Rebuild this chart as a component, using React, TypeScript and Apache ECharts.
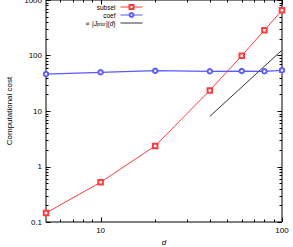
import React, { useEffect, useRef } from "react";
import * as echarts from "echarts";

// ---- data ----
const dValues = [5, 10, 20, 40, 60, 80, 100];
const subselCost = [0.145, 0.52, 2.35, 23.5, 99, 285, 655];
const coefCost = [46.3, 49.8, 53.2, 51.9, 52.5, 51.9, 54.1];
const jpriorD = [40, 100];
const jpriorCost = [8, 125];

const xMajorTicks = [10, 100];
const xMinorTicks = [6, 7, 8, 9, 20, 30, 40, 50, 60, 70, 80, 90];
const yMajorTicks = [0.1, 1, 10, 100, 1000];
const yMinorTicks = [
  0.2, 0.3, 0.4, 0.5, 0.6, 0.7, 0.8, 0.9,
  2, 3, 4, 5, 6, 7, 8, 9,
  20, 30, 40, 50, 60, 70, 80, 90,
  200, 300, 400, 500, 600, 700, 800, 900,
];
const xLabels = [10, 100];
const yLabels = [0.1, 1, 10, 100, 1000];

const SUBSEL = "subsel";
const COEF = "coef";
const JPRIOR = "∝ |Jprior|(d)";

const FONT = "Liberation Sans";
const MAJOR_LEN = 4.5;
const MINOR_LEN = 2.5;

function isLabel(list: number[], v: number) {
  return list.some((t) => Math.abs(t - v) / t < 1e-6);
}

export default function App() {
  const ref = useRef<HTMLDivElement>(null);

  useEffect(() => {
    if (!ref.current) return;
    const chart = echarts.init(ref.current, undefined, { renderer: "svg" });

    const xTickData = [
      ...xMajorTicks.map((v) => [v, 1, MAJOR_LEN]),
      ...xMinorTicks.map((v) => [v, 1, MINOR_LEN]),
    ];
    const yTickData = [
      ...yMajorTicks.map((v) => [10, v, MAJOR_LEN]),
      ...yMinorTicks.map((v) => [10, v, MINOR_LEN]),
    ];

    const tickStyle = { stroke: "#000", lineWidth: 1 };

    chart.setOption({
      animation: false,
      textStyle: { fontFamily: FONT },
      grid: {
        left: 46,
        right: 11,
        top: 0,
        bottom: 25,
        containLabel: false,
        outerBoundsMode: "none",
        show: true,
        borderColor: "#000",
        borderWidth: 1,
        backgroundColor: "transparent",
      },
      legend: {
        data: [SUBSEL, COEF, { name: JPRIOR, itemStyle: { opacity: 0 } }],
        orient: "vertical",
        align: "right",
        right: 150,
        top: 3,
        padding: 0,
        itemGap: 0,
        itemWidth: 22,
        itemHeight: 5,
        lineStyle: { width: 1 },
        itemStyle: { borderWidth: 0.8 },
        textStyle: {
          fontFamily: FONT,
          fontSize: 6.5,
          color: "#000",
          lineHeight: 8,
          rich: {
            i: { fontFamily: FONT, fontSize: 6.5, fontStyle: "italic", lineHeight: 8, color: "#000" },
            sub: { fontFamily: FONT, fontSize: 4.5, lineHeight: 4, verticalAlign: "bottom", color: "#000" },
          },
        },
        formatter: (name: string) =>
          name === JPRIOR ? "∝ |{i|J}{sub|prior}|({i|d})" : name,
      },
      xAxis: {
        type: "log",
        logBase: 10,
        min: 5,
        max: 100,
        name: "d",
        nameLocation: "middle",
        nameGap: 12,
        nameTextStyle: { fontFamily: FONT, fontSize: 8, fontStyle: "italic", color: "#000" },
        axisLine: { show: false, lineStyle: { color: "#000" } },
        axisTick: { show: false },
        splitLine: { show: false },
        axisLabel: {
          fontFamily: FONT,
          fontSize: 8,
          color: "#000",
          margin: 4,
          showMinLabel: false,
          formatter: (v: number) => (isLabel(xLabels, v) ? String(v) : ""),
        },
      },
      yAxis: {
        type: "log",
        logBase: 10,
        min: 0.1,
        max: 1000,
        name: "Computational cost",
        nameLocation: "middle",
        nameGap: 31,
        nameTextStyle: { fontFamily: FONT, fontSize: 8, color: "#000" },
        axisLine: { show: false, lineStyle: { color: "#000" } },
        axisTick: { show: false },
        splitLine: { show: false },
        axisLabel: {
          fontFamily: FONT,
          fontSize: 8,
          color: "#000",
          margin: 4,
          formatter: (v: number) => (isLabel(yLabels, v) ? String(v) : ""),
        },
      },
      series: [
        {
          type: "custom",
          silent: true,
          z: 1,
          data: xTickData,
          encode: { x: 0, y: 1 },
          renderItem: (params: any, api: any) => {
            const cs = params.coordSys;
            const x = Math.round(api.coord([api.value(0), 1])[0]) + 0.5;
            const len = api.value(2);
            const bottom = cs.y + cs.height;
            return {
              type: "group",
              children: [
                { type: "line", shape: { x1: x, y1: bottom, x2: x, y2: bottom - len }, style: tickStyle },
                { type: "line", shape: { x1: x, y1: cs.y, x2: x, y2: cs.y + len }, style: tickStyle },
              ],
            };
          },
        },
        {
          type: "custom",
          silent: true,
          z: 1,
          data: yTickData,
          encode: { x: 0, y: 1 },
          renderItem: (params: any, api: any) => {
            const cs = params.coordSys;
            const y = Math.round(api.coord([10, api.value(1)])[1]) + 0.5;
            const len = api.value(2);
            const right = cs.x + cs.width;
            return {
              type: "group",
              children: [
                { type: "line", shape: { x1: cs.x, y1: y, x2: cs.x + len, y2: y }, style: tickStyle },
                { type: "line", shape: { x1: right, y1: y, x2: right - len, y2: y }, style: tickStyle },
              ],
            };
          },
        },
        {
          name: SUBSEL,
          type: "line",
          z: 3,
          data: dValues.map((d, i) => [d, subselCost[i]]),
          symbol: "emptyRect",
          symbolSize: 4.5,
          color: "#ff3b3b",
          lineStyle: { color: "#ff3b3b", width: 1 },
          itemStyle: { color: "#ff3b3b", borderWidth: 0.8 },
        },
        {
          name: COEF,
          type: "line",
          z: 3,
          data: dValues.map((d, i) => [d, coefCost[i]]),
          symbol: "emptyCircle",
          symbolSize: 4.5,
          color: "#5a5aff",
          lineStyle: { color: "#5a5aff", width: 1.2 },
          itemStyle: { color: "#5a5aff", borderWidth: 1 },
        },
        {
          name: JPRIOR,
          type: "line",
          z: 3,
          data: jpriorD.map((d, i) => [d, jpriorCost[i]]),
          symbol: "none",
          color: "#333",
          lineStyle: { color: "#333", width: 1 },
        },
      ],
    });

    return () => chart.dispose();
  }, []);

  return (
    <div
      ref={ref}
      style={{ position: "absolute", left: 0, top: 0, width: 293, height: 247 }}
    />
  );
}
